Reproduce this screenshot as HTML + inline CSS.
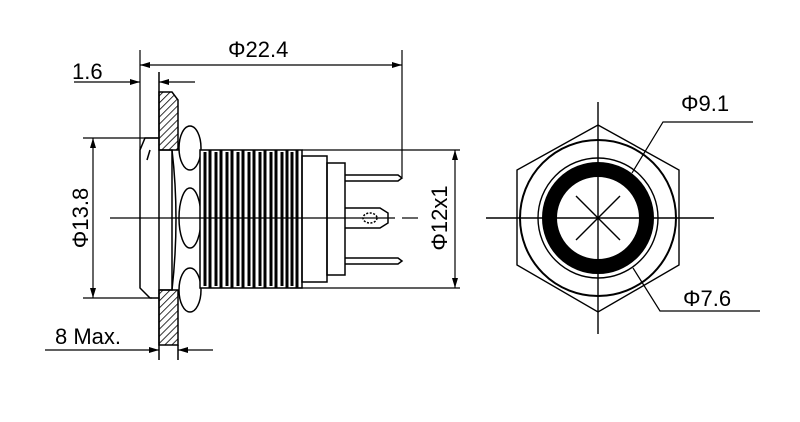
<!DOCTYPE html>
<html><head><meta charset="utf-8"><style>
html,body{margin:0;padding:0;background:#fff;}
svg{display:block}
text{font-family:"Liberation Sans",sans-serif;font-size:22px;fill:#000}
</style></head><body>
<svg width="800" height="422" viewBox="0 0 800 422" xmlns="http://www.w3.org/2000/svg">
<defs>
<pattern id="h" width="5" height="5" patternUnits="userSpaceOnUse" patternTransform="rotate(45)">
<line x1="0" y1="0" x2="0" y2="5" stroke="#000" stroke-width="1.6"/></pattern>
<marker id="a" viewBox="0 0 10 6" refX="10" refY="3" markerWidth="10" markerHeight="6" orient="auto-start-reverse" markerUnits="userSpaceOnUse"><path d="M0,0L10,3L0,6z" fill="#000"/></marker>
</defs>
<g stroke="#000" fill="none" stroke-width="1.5">
<path d="M159,92 L172,92 L178,100 L178,150 L159,150 Z" fill="url(#h)"/>
<path d="M159,290 L178,290 L178,345 L159,345 Z" fill="url(#h)"/>
<line x1="159" y1="72" x2="159" y2="360"/>
<line x1="178" y1="345" x2="178" y2="360"/>
<path d="M159,138 L145,138 L140,150 L140,288 L150,298 L159,298"/>
<line x1="150" y1="150" x2="147" y2="160"/>
<path d="M159,150 L172,150 L172,290 L159,290"/>
<path d="M172,150 Q180,218 172,290"/>
<ellipse cx="190" cy="148" rx="11" ry="22" fill="#fff"/>
<ellipse cx="190" cy="290" rx="11" ry="22" fill="#fff"/>
<ellipse cx="190" cy="218" rx="11" ry="30" fill="#fff"/>
<rect x="200" y="150" width="102" height="138" fill="#fff"/>
</g>
<g stroke="#000" stroke-width="3">
<line x1="205" y1="152" x2="205" y2="286"/><line x1="210" y1="150" x2="210" y2="288"/>
<line x1="216" y1="152" x2="216" y2="286"/><line x1="221" y1="150" x2="221" y2="288"/>
<line x1="227" y1="152" x2="227" y2="286"/><line x1="232" y1="150" x2="232" y2="288"/>
<line x1="238" y1="152" x2="238" y2="286"/><line x1="243" y1="150" x2="243" y2="288"/>
<line x1="249" y1="152" x2="249" y2="286"/><line x1="254" y1="150" x2="254" y2="288"/>
<line x1="260" y1="152" x2="260" y2="286"/><line x1="265" y1="150" x2="265" y2="288"/>
<line x1="271" y1="152" x2="271" y2="286"/><line x1="276" y1="150" x2="276" y2="288"/>
<line x1="282" y1="152" x2="282" y2="286"/><line x1="287" y1="150" x2="287" y2="288"/>
<line x1="292" y1="152" x2="292" y2="286"/><line x1="297" y1="150" x2="297" y2="288"/>
</g>
<g stroke="#000" fill="none" stroke-width="1.5">
<rect x="302" y="156" width="25" height="126"/>
<rect x="327" y="163" width="18" height="112"/>
<path d="M345,175 L398,175 L402,178 L398,181 L345,181"/>
<path d="M345,258 L398,258 L402,261 L398,264 L345,264"/>
<path d="M345,208 L380,208 L388,213 L388,223 L380,228 L345,228"/>
<ellipse cx="370" cy="218" rx="7" ry="5" stroke-dasharray="2 1.5"/>
<line x1="110" y1="218" x2="395" y2="218" stroke-width="1.2"/>
<line x1="402" y1="218" x2="418" y2="218" stroke-width="1.2"/>
<line x1="140" y1="50" x2="140" y2="150" stroke-width="1.2"/>
<line x1="140" y1="65" x2="402" y2="65" stroke-width="1.2" marker-start="url(#a)" marker-end="url(#a)"/>
<line x1="402" y1="50" x2="402" y2="177" stroke-width="1.2"/>
<line x1="74" y1="82" x2="140" y2="82" stroke-width="1.2" marker-end="url(#a)"/>
<line x1="159" y1="82" x2="195" y2="82" stroke-width="1.2" marker-start="url(#a)"/>
<line x1="83" y1="138" x2="159" y2="138" stroke-width="1.2"/>
<line x1="83" y1="298" x2="152" y2="298" stroke-width="1.2"/>
<line x1="93" y1="138" x2="93" y2="298" stroke-width="1.2" marker-start="url(#a)" marker-end="url(#a)"/>
<line x1="302" y1="150" x2="460" y2="150" stroke-width="1.2"/>
<line x1="290" y1="288" x2="460" y2="288" stroke-width="1.2"/>
<line x1="455" y1="150" x2="455" y2="288" stroke-width="1.2" marker-start="url(#a)" marker-end="url(#a)"/>
<line x1="45" y1="350" x2="159" y2="350" stroke-width="1.2" marker-end="url(#a)"/>
<line x1="178" y1="350" x2="213" y2="350" stroke-width="1.2" marker-start="url(#a)"/>
</g>
<text x="72" y="79">1.6</text>
<text x="228" y="57">Φ22.4</text>
<text x="55" y="344">8 Max.</text>
<text transform="translate(88,218) rotate(-90)" text-anchor="middle">Φ13.8</text>
<text transform="translate(447,218) rotate(-90)" text-anchor="middle">Φ12x1</text>
<g stroke="#000" fill="none" stroke-width="1.4">
<polygon points="598,125 679,170 679,265 598,312 517,265 517,170"/>
<circle cx="598" cy="218" r="78" stroke-width="2"/>
<circle cx="598" cy="218" r="60"/>
<circle cx="598" cy="218" r="48.5" stroke-width="15"/>
<line x1="486" y1="218" x2="714" y2="218"/>
<line x1="598" y1="102" x2="598" y2="334"/>
<line x1="576" y1="196" x2="620" y2="240"/>
<line x1="620" y1="196" x2="576" y2="240"/>
<polyline points="632,173 663,122 753,122" stroke-width="1.2"/>
<polyline points="633,268 660,311 760,311" stroke-width="1.2"/>
</g>
<text x="681" y="111">Φ9.1</text>
<text x="683" y="306">Φ7.6</text>
</svg>
</body></html>
